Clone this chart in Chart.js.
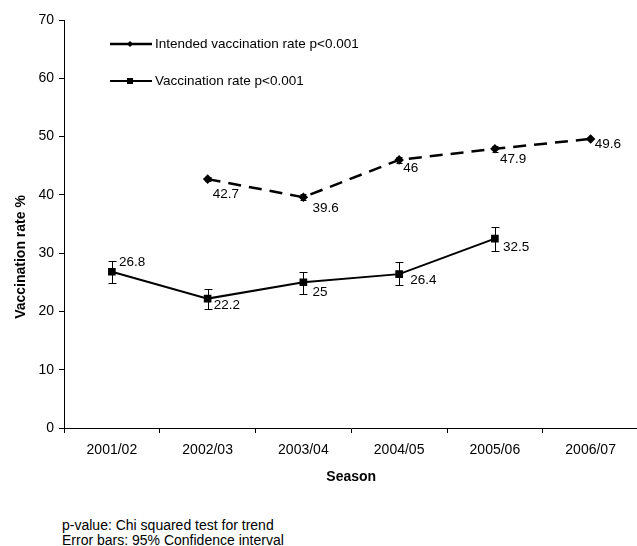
<!DOCTYPE html>
<html>
<head>
<meta charset="utf-8">
<script src="https://cdn.jsdelivr.net/npm/chart.js@4.4.1/dist/chart.umd.min.js"></script>
<style>
  html, body { margin: 0; padding: 0; background: #fff; }
  #wrap { position: relative; width: 637px; height: 546px; overflow: hidden; }
  #notes { position: absolute; left: 62px; top: 518px; font: 14px "Liberation Sans", Arial, sans-serif; line-height: 15px; color: #000; }
</style>
</head>
<body>
<div id="wrap">
  <canvas id="myChart" width="645" height="500"></canvas>
  <div id="notes">p-value: Chi squared test for trend<br>Error bars: 95% Confidence interval</div>
</div>
<script>
// data
const seasons = ["2001/02", "2002/03", "2003/04", "2004/05", "2005/06", "2006/07"];
const intended = [null, 42.7, 39.6, 46, 47.9, 49.6];
const intendedLow = [null, 42.3, 39.1, 45.5, 47.4, 49.6];
const intendedHigh = [null, 43.1, 40.1, 46.5, 48.4, 49.6];
const vaccinated = [26.8, 22.2, 25, 26.4, 32.5, null];
const vaccinatedLow = [24.9, 20.4, 23.0, 24.5, 30.4, null];
const vaccinatedHigh = [28.6, 23.9, 26.8, 28.4, 34.4, null];
const yTicks = [0, 10, 20, 30, 40, 50, 60, 70];

// label nudges (px) from each point: [dx, dy]
const intendedLabelOff = [null, [5, 15], [9, 11], [4, 8], [5, 10], [4, 5]];
const vaccinatedLabelOff = [[7, -10], [6, 7], [9, 10], [11, 6], [8, 9], null];

const FONT = "'Liberation Sans', Arial, sans-serif";

const extras = {
  id: "extras",
  afterDatasetsDraw(chart) {
    const ctx = chart.ctx;
    const x = chart.scales.x, y = chart.scales.y;
    const bars = [[intendedLow, intendedHigh, 3], [vaccinatedLow, vaccinatedHigh, 4]];
    ctx.save();
    ctx.strokeStyle = "#000";
    ctx.lineWidth = 1;
    bars.forEach(([lo, hi, cap]) => {
      lo.forEach((v, i) => {
        if (v == null || v === hi[i]) return;
        const px = Math.round(x.getPixelForValue(i)) + 0.5;
        const y1 = Math.round(y.getPixelForValue(v)) + 0.5;
        const y2 = Math.round(y.getPixelForValue(hi[i])) + 0.5;
        ctx.beginPath();
        ctx.moveTo(px, y1); ctx.lineTo(px, y2);
        ctx.moveTo(px - cap, y1); ctx.lineTo(px + cap, y1);
        ctx.moveTo(px - cap, y2); ctx.lineTo(px + cap, y2);
        ctx.stroke();
      });
    });

    // value labels
    ctx.fillStyle = "#000";
    ctx.font = "13.5px " + FONT;
    ctx.textAlign = "left";
    ctx.textBaseline = "middle";
    const labels = [[intended, intendedLabelOff], [vaccinated, vaccinatedLabelOff]];
    labels.forEach(([vals, off]) => {
      vals.forEach((v, i) => {
        if (v == null) return;
        const px = x.getPixelForValue(i), py = y.getPixelForValue(v);
        ctx.fillText(String(v), px + off[i][0], py + off[i][1]);
      });
    });

    // legend inside the plot
    const rows = [44, 81];
    chart.data.datasets.forEach((ds, k) => {
      const ly = rows[k];
      ctx.beginPath();
      ctx.strokeStyle = "#000";
      ctx.lineWidth = k === 0 ? 2.5 : 2;
      ctx.moveTo(110, ly); ctx.lineTo(152, ly);
      ctx.stroke();
      ctx.fillStyle = "#000";
      if (ds.pointStyle === "rectRot") {
        ctx.beginPath();
        ctx.moveTo(130, ly - 3); ctx.lineTo(133, ly); ctx.lineTo(130, ly + 3); ctx.lineTo(127, ly);
        ctx.fill();
      } else {
        ctx.fillRect(127, ly - 3, 6, 6);
      }
      ctx.font = "13.5px " + FONT;
      ctx.fillText(ds.label, 155, ly);
    });

    // y axis title, sits a bit below the axis middle in the original
    ctx.save();
    ctx.translate(21, 257);
    ctx.rotate(-Math.PI / 2);
    ctx.textAlign = "center";
    ctx.font = "bold 14px " + FONT;
    ctx.fillText("Vaccination rate %", 0, 0);
    ctx.restore();
    ctx.restore();
  }
};

new Chart(document.getElementById("myChart"), {
  type: "line",
  data: {
    labels: seasons,
    datasets: [
      {
        label: "Intended vaccination rate p<0.001",
        data: intended,
        borderColor: "#000",
        backgroundColor: "#000",
        borderWidth: 2.5,
        borderDash: [13, 8],
        pointStyle: "rectRot",
        pointRadius: 3,
        tension: 0
      },
      {
        label: "Vaccination rate p<0.001",
        data: vaccinated,
        borderColor: "#000",
        backgroundColor: "#000",
        borderWidth: 2,
        pointStyle: "rect",
        pointRadius: 4,
        tension: 0
      }
    ]
  },
  options: {
    responsive: false,
    animation: false,
    spanGaps: false,
    layout: { padding: { left: 0, right: 0, top: 20, bottom: 14 } },
    plugins: { legend: { display: false }, tooltip: { enabled: false } },
    scales: {
      x: {
        offset: true,
        grid: { offset: true, drawOnChartArea: false, color: "#000", tickLength: 5, tickColor: "#000" },
        border: { color: "#000", width: 1 },
        ticks: { color: "#000", font: { family: FONT, size: 14 }, padding: 9, maxRotation: 0 },
        title: { display: true, text: "Season", color: "#000", font: { family: FONT, size: 14, weight: "bold" }, padding: { top: 8, bottom: 0 } },
        afterFit(s) { s.height = 58; }
      },
      y: {
        min: 0, max: 70,
        afterBuildTicks(s) { s.ticks = yTicks.map(v => ({ value: v })); },
        grid: { drawOnChartArea: false, color: "#000", tickLength: 5, tickColor: "#000" },
        border: { color: "#000", width: 1 },
        ticks: { color: "#000", font: { family: FONT, size: 14 }, padding: 5 },
        afterFit(s) { s.width = 64; }
      }
    }
  },
  plugins: [extras]
});
</script>
</body>
</html>
